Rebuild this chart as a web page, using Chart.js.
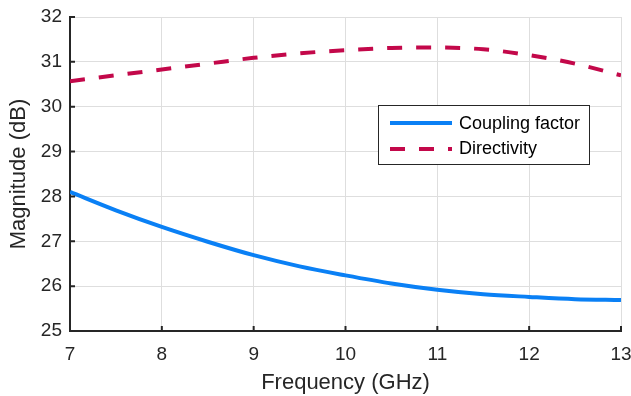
<!DOCTYPE html>
<html>
<head>
<meta charset="utf-8">
<script src="https://cdn.jsdelivr.net/npm/chart.js@4"></script>
<style>
  html, body { margin: 0; padding: 0; background: #fff; }
  #wrap { width: 631px; height: 396px; }
</style>
</head>
<body>
<div id="wrap"><canvas id="chart" width="631" height="396"></canvas></div>
<script>
// donnees
const freq = [7, 7.5, 8, 8.5, 9, 9.5, 10, 10.5, 11, 11.5, 12, 12.5, 13];
const coupling = [28.1, 27.69, 27.32, 26.99, 26.69, 26.44, 26.24, 26.06, 25.92, 25.82, 25.76, 25.71, 25.69];
const directivity = [30.57, 30.7, 30.83, 30.96, 31.09, 31.19, 31.26, 31.31, 31.32, 31.28, 31.15, 30.96, 30.7];
const xTicks = [7, 8, 9, 10, 11, 12, 13];
const yTicks = [25, 26, 27, 28, 29, 30, 31, 32];

const blue = '#0a80f5';
const red = '#c3084a';
const ink = '#262626';
const fam = '"Liberation Sans", Arial, sans-serif';
const dash = [15, 14];

function points(ys) {
    return freq.map((f, i) => ({ x: f, y: ys[i] }));
}

// petits traits de graduation vers l'interieur (style MATLAB)
const innerTicks = {
    id: 'innerTicks',
    afterDatasetsDraw(chart) {
        const ctx = chart.ctx;
        const a = chart.chartArea;
        const xs = chart.scales.x, ys = chart.scales.y;
        ctx.save();
        ctx.strokeStyle = ink;
        ctx.lineWidth = 2;
        ctx.beginPath();
        xTicks.forEach(v => {
            const px = xs.getPixelForValue(v);
            ctx.moveTo(px, a.bottom);
            ctx.lineTo(px, a.bottom - 5);
        });
        yTicks.forEach(v => {
            const py = ys.getPixelForValue(v);
            ctx.moveTo(a.left, py);
            ctx.lineTo(a.left + 5, py);
        });
        ctx.stroke();
        ctx.restore();
    }
};

// legende dessinee dans la zone du graphique
const legendBox = {
    id: 'legendBox',
    afterDraw(chart) {
        const ctx = chart.ctx;
        const x = 378, y = 105, w = 211, h = 59;
        ctx.save();
        ctx.fillStyle = '#fff';
        ctx.fillRect(x, y, w, h);
        ctx.strokeStyle = ink;
        ctx.lineWidth = 1;
        ctx.strokeRect(x + 0.5, y + 0.5, w, h);
        ctx.lineWidth = 4;
        ctx.strokeStyle = blue;
        ctx.beginPath();
        ctx.moveTo(x + 12, y + 18);
        ctx.lineTo(x + 74, y + 18);
        ctx.stroke();
        ctx.strokeStyle = red;
        ctx.setLineDash(dash);
        ctx.beginPath();
        ctx.moveTo(x + 12, y + 44);
        ctx.lineTo(x + 74, y + 44);
        ctx.stroke();
        ctx.setLineDash([]);
        ctx.fillStyle = '#000';
        ctx.font = '18px ' + fam;
        ctx.textBaseline = 'middle';
        ctx.fillText('Coupling factor', x + 81, y + 19);
        ctx.fillText('Directivity', x + 81, y + 44);
        ctx.restore();
    }
};

new Chart(document.getElementById('chart').getContext('2d'), {
    type: 'line',
    data: {
        datasets: [{
            label: 'Coupling factor',
            data: points(coupling),
            borderColor: blue,
            borderWidth: 4,
            pointRadius: 0,
            cubicInterpolationMode: 'monotone'
        }, {
            label: 'Directivity',
            data: points(directivity),
            borderColor: red,
            borderWidth: 4,
            borderDash: dash,
            pointRadius: 0,
            cubicInterpolationMode: 'monotone'
        }]
    },
    options: {
        responsive: false,
        animation: false,
        layout: { padding: { top: 17, right: 10, left: 0, bottom: 0 } },
        plugins: { legend: { display: false }, tooltip: { enabled: false } },
        scales: {
            x: {
                type: 'linear',
                min: 7,
                max: 13,
                afterBuildTicks: axis => { axis.ticks = xTicks.map(v => ({ value: v })); },
                afterFit: axis => {
                    axis.height = 65;
                    axis.paddingLeft = 0;
                    axis.paddingRight = 0;
                },
                grid: { color: '#dedede', drawTicks: false },
                border: { color: ink, width: 2 },
                ticks: {
                    color: ink,
                    padding: 12,
                    maxRotation: 0,
                    font: { size: 19, family: fam }
                },
                title: {
                    display: true,
                    text: 'Frequency (GHz)',
                    color: ink,
                    padding: { top: 0, bottom: 0 },
                    font: { size: 22, family: fam }
                }
            },
            y: {
                min: 25,
                max: 32,
                afterBuildTicks: axis => { axis.ticks = yTicks.map(v => ({ value: v })); },
                afterFit: axis => {
                    axis.width = 70;
                    axis.paddingTop = 0;
                    axis.paddingBottom = 0;
                },
                grid: { color: '#dedede', drawTicks: false },
                border: { color: ink, width: 2 },
                ticks: {
                    color: ink,
                    padding: 8,
                    font: { size: 19, family: fam }
                },
                title: {
                    display: true,
                    text: 'Magnitude (dB)',
                    color: ink,
                    padding: { top: 6, bottom: 0 },
                    font: { size: 22, family: fam }
                }
            }
        }
    },
    plugins: [innerTicks, legendBox]
});
</script>
</body>
</html>
